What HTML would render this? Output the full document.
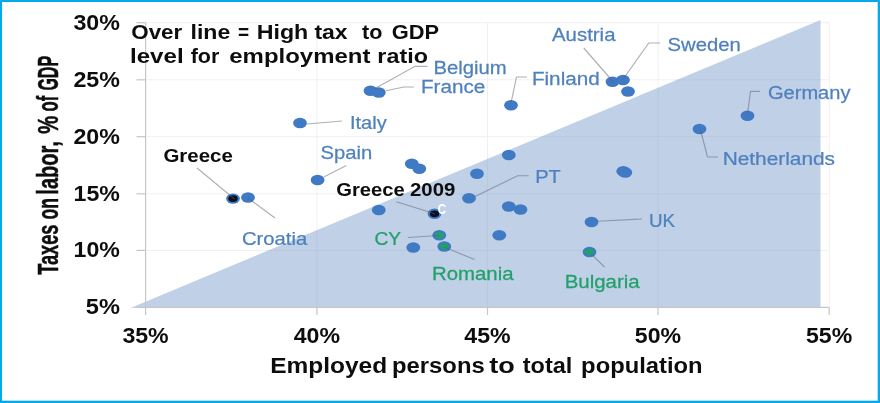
<!DOCTYPE html>
<html lang="en"><head><meta charset="utf-8"><title>Taxes on labor vs employment</title>
<style>
html,body{margin:0;padding:0;background:#fff;}
body{width:880px;height:403px;overflow:hidden;position:relative;font-family:"Liberation Sans",sans-serif;}
svg{position:absolute;left:0;top:0;display:block;}
text{font-family:"Liberation Sans",sans-serif;white-space:pre;}
.lb{font-size:18.5px;fill:#4F81BD;stroke:#4F81BD;stroke-width:0.25;}
.lg{font-size:18.5px;fill:#22A06B;stroke:#22A06B;stroke-width:0.25;}
.lk{font-size:18.4px;font-weight:bold;fill:#0a0a0a;}
.lw{font-size:14.5px;font-weight:bold;fill:#fff;}
.tk{font-size:22.6px;font-weight:bold;fill:#111;}
.ti{font-size:19.8px;font-weight:bold;fill:#111;}
.xt{font-size:22px;font-weight:bold;fill:#111;}
.yt{font-size:28.6px;font-weight:bold;fill:#111;stroke:#111;stroke-width:0.5;stroke-linejoin:round;}
.ld{stroke:#5c626b;stroke-opacity:0.5;stroke-width:1.15;fill:none;}
.gr{stroke:#F0F0F0;stroke-width:1;fill:none;}
.gt{stroke:#b3c3db;stroke-width:1;opacity:0.6;}
.ax{stroke:#C6C6C6;stroke-width:1.2;fill:none;}
.d{fill:#3F7AC4;}
</style></head><body>
<svg width="880" height="403" viewBox="0 0 880 403">
<rect x="0" y="0" width="880" height="403" fill="#fff"/>
<defs><clipPath id="tc"><polygon points="130.6,307.9 820.5,20 820.5,307.9"/></clipPath><filter id="sf" x="0" y="0" width="880" height="403" filterUnits="userSpaceOnUse"><feGaussianBlur stdDeviation="0.45"/></filter></defs>
<g filter="url(#sf)">
<g class="gr">
<line x1="145.6" y1="22.7" x2="829.2" y2="22.7"/>
<line x1="145.6" y1="79.8" x2="829.2" y2="79.8"/>
<line x1="145.6" y1="136.7" x2="829.2" y2="136.7"/>
<line x1="145.6" y1="193.8" x2="829.2" y2="193.8"/>
<line x1="145.6" y1="250.4" x2="829.2" y2="250.4"/>
<line x1="316.9" y1="22.7" x2="316.9" y2="307.4"/>
<line x1="487.5" y1="22.7" x2="487.5" y2="307.4"/>
<line x1="658.0" y1="22.7" x2="658.0" y2="307.4"/>
<line x1="829.2" y1="22.7" x2="829.2" y2="307.4"/>
</g>
<polygon points="130.6,307.9 820.5,20 820.5,307.9" fill="#C0D0E7"/>
<g class="gt" clip-path="url(#tc)">
<line x1="145.6" y1="79.8" x2="820.5" y2="79.8"/>
<line x1="145.6" y1="136.7" x2="820.5" y2="136.7"/>
<line x1="145.6" y1="193.8" x2="820.5" y2="193.8"/>
<line x1="145.6" y1="250.4" x2="820.5" y2="250.4"/>
<line x1="316.9" y1="22.7" x2="316.9" y2="307.4"/>
<line x1="487.5" y1="22.7" x2="487.5" y2="307.4"/>
<line x1="658.0" y1="22.7" x2="658.0" y2="307.4"/>
</g>
<g class="ax">
<line x1="145.6" y1="22.7" x2="145.6" y2="315"/>
<line x1="136.5" y1="307.4" x2="829.2" y2="307.4"/>
<line x1="136.5" y1="22.7" x2="145.6" y2="22.7"/>
<line x1="136.5" y1="79.8" x2="145.6" y2="79.8"/>
<line x1="136.5" y1="136.7" x2="145.6" y2="136.7"/>
<line x1="136.5" y1="193.8" x2="145.6" y2="193.8"/>
<line x1="136.5" y1="250.4" x2="145.6" y2="250.4"/>
<line x1="316.9" y1="307.4" x2="316.9" y2="315"/>
<line x1="487.5" y1="307.4" x2="487.5" y2="315"/>
<line x1="658.0" y1="307.4" x2="658.0" y2="315"/>
<line x1="829.2" y1="307.4" x2="829.2" y2="315"/>
</g>
<g class="d">
<ellipse cx="300.0" cy="123.0" rx="6.9" ry="5.2"/>
<ellipse cx="370.5" cy="90.8" rx="6.9" ry="5.2"/>
<ellipse cx="378.8" cy="92.5" rx="6.9" ry="5.2"/>
<ellipse cx="511.0" cy="105.3" rx="6.9" ry="5.2"/>
<ellipse cx="612.5" cy="81.8" rx="6.9" ry="5.2"/>
<ellipse cx="623.0" cy="80.0" rx="6.9" ry="5.2"/>
<ellipse cx="628.0" cy="91.5" rx="6.9" ry="5.2"/>
<ellipse cx="747.5" cy="115.8" rx="6.9" ry="5.2"/>
<ellipse cx="699.5" cy="129.0" rx="6.9" ry="5.2"/>
<ellipse cx="233.0" cy="198.6" rx="6.9" ry="5.2"/>
<ellipse cx="248.0" cy="197.5" rx="6.9" ry="5.2"/>
<ellipse cx="317.6" cy="180.0" rx="6.9" ry="5.2"/>
<ellipse cx="411.8" cy="163.8" rx="6.9" ry="5.2"/>
<ellipse cx="419.3" cy="168.8" rx="6.9" ry="5.2"/>
<ellipse cx="477.0" cy="173.8" rx="6.9" ry="5.2"/>
<ellipse cx="508.8" cy="155.0" rx="6.9" ry="5.2"/>
<ellipse cx="378.8" cy="210.0" rx="6.9" ry="5.2"/>
<ellipse cx="434.5" cy="213.8" rx="6.9" ry="5.2"/>
<ellipse cx="469.0" cy="198.3" rx="6.9" ry="5.2"/>
<ellipse cx="508.8" cy="206.5" rx="6.9" ry="5.2"/>
<ellipse cx="520.5" cy="209.5" rx="6.9" ry="5.2"/>
<ellipse cx="623.3" cy="171.3" rx="6.9" ry="5.2"/>
<ellipse cx="625.3" cy="172.5" rx="6.9" ry="5.2"/>
<ellipse cx="591.5" cy="222.0" rx="6.9" ry="5.2"/>
<ellipse cx="589.5" cy="252.0" rx="6.9" ry="5.2"/>
<ellipse cx="439.3" cy="235.3" rx="6.9" ry="5.2"/>
<ellipse cx="413.3" cy="247.5" rx="6.9" ry="5.2"/>
<ellipse cx="444.3" cy="246.5" rx="6.9" ry="5.2"/>
<ellipse cx="499.3" cy="235.3" rx="6.9" ry="5.2"/>
</g>
<ellipse cx="233.0" cy="198.6" rx="4.7" ry="3.4" fill="#07101f"/>
<ellipse cx="434.5" cy="213.8" rx="4.7" ry="3.4" fill="#07101f"/>
<ellipse cx="589.5" cy="252.0" rx="4.4" ry="3.2" fill="#22A06B"/>
<ellipse cx="439.3" cy="235.3" rx="4.4" ry="3.2" fill="#22A06B"/>
<ellipse cx="444.3" cy="246.5" rx="4.4" ry="3.2" fill="#22A06B"/>
<g class="ld">
<polyline points="307,124 342,121"/>
<polyline points="375,88.5 415,66.3 427.5,66.3"/>
<polyline points="386,90.8 404,87 413.8,87"/>
<polyline points="511,103 516.5,77 527,77"/>
<polyline points="583.8,48 613.8,82.5"/>
<polyline points="622.5,80 648.8,43 660,43"/>
<polyline points="747.5,114 750.5,91.3 760,91.3"/>
<polyline points="700.5,130 707.5,157 718,157"/>
<polyline points="197,168 234.5,199"/>
<polyline points="248,198 275,218"/>
<polyline points="323.8,177 346.3,165.5"/>
<polyline points="396.3,201.8 435,213.8"/>
<polyline points="475,196.5 517.5,175.7 528.8,175.7"/>
<polyline points="598,221.3 642,219"/>
<polyline points="408,237.5 439,235.5"/>
<polyline points="444,247 474.5,259.5"/>
<polyline points="591,253.8 604.5,267"/>
</g>
<text class="lb" transform="translate(349.92,128.80) scale(1.0838,1)">Italy</text>
<text class="lb" transform="translate(433.40,73.70) scale(1.0990,1)">Belgium</text>
<text class="lb" transform="translate(420.88,93.00) scale(1.1192,1)">France</text>
<text class="lb" transform="translate(531.88,84.50) scale(1.1198,1)">Finland</text>
<text class="lb" transform="translate(552.00,40.50) scale(1.1031,1)">Austria</text>
<text class="lb" transform="translate(667.50,50.50) scale(1.0967,1)">Sweden</text>
<text class="lb" transform="translate(768.00,98.80) scale(1.0842,1)">Germany</text>
<text class="lb" transform="translate(722.67,164.90) scale(1.1269,1)">Netherlands</text>
<text class="lb" transform="translate(320.50,159.30) scale(1.0951,1)">Spain</text>
<text class="lb" transform="translate(242.00,244.60) scale(1.0936,1)">Croatia</text>
<text class="lb" transform="translate(535.22,183.30) scale(1.0833,1)">PT</text>
<text class="lb" transform="translate(648.98,227.00) scale(1.0173,1)">UK</text>
<text class="lg" transform="translate(374.50,244.50) scale(1.0371,1)">CY</text>
<text class="lg" transform="translate(431.90,280.00) scale(1.1024,1)">Romania</text>
<text class="lg" transform="translate(564.69,287.50) scale(1.1052,1)">Bulgaria</text>
<text class="lk" transform="translate(163.40,162.00) scale(1.1135,1)">Greece</text>
<text class="lk" transform="translate(336.30,195.60) scale(1.0974,1)">Greece</text>
<text class="lk" transform="translate(410.00,195.60) scale(1.1061,1)">2009</text>
<text class="lw" transform="translate(437.80,214.00) scale(0.8000,1)">C</text>
<text class="ti" transform="translate(131.20,38.50) scale(1.1324,1)">Over</text>
<text class="ti" transform="translate(190.53,38.50) scale(1.1670,1)">line</text>
<text class="ti" transform="translate(238.00,38.50) scale(0.9636,1)">=</text>
<text class="ti" transform="translate(256.73,38.50) scale(1.1728,1)">High</text>
<text class="ti" transform="translate(314.40,38.50) scale(1.1613,1)">tax</text>
<text class="ti" transform="translate(362.10,38.50) scale(1.0921,1)">to</text>
<text class="ti" transform="translate(391.70,38.50) scale(1.1038,1)">GDP</text>
<text class="ti" transform="translate(129.98,62.70) scale(1.2188,1)">level</text>
<text class="ti" transform="translate(190.70,62.70) scale(1.0873,1)">for</text>
<text class="ti" transform="translate(229.30,62.70) scale(1.2102,1)">employment</text>
<text class="ti" transform="translate(377.32,62.70) scale(1.1799,1)">ratio</text>
<text class="xt" transform="translate(270.19,373.30) scale(1.1140,1)">Employed</text>
<text class="xt" transform="translate(392.02,373.30) scale(1.0836,1)">persons</text>
<text class="xt" transform="translate(489.20,373.30) scale(1.2299,1)">to</text>
<text class="xt" transform="translate(522.80,373.30) scale(1.0678,1)">total</text>
<text class="xt" transform="translate(581.12,373.30) scale(1.0813,1)">population</text>
<text class="tk" transform="translate(73.40,29.60) scale(1.0281,1)">30%</text>
<text class="tk" transform="translate(73.40,86.70) scale(1.0281,1)">25%</text>
<text class="tk" transform="translate(73.40,143.60) scale(1.0281,1)">20%</text>
<text class="tk" transform="translate(73.58,200.70) scale(1.0242,1)">15%</text>
<text class="tk" transform="translate(73.58,257.30) scale(1.0242,1)">10%</text>
<text class="tk" transform="translate(85.80,314.30) scale(1.0440,1)">5%</text>
<text class="tk" transform="translate(122.40,342.70) scale(1.0237,1)">35%</text>
<text class="tk" transform="translate(293.70,342.70) scale(1.0237,1)">40%</text>
<text class="tk" transform="translate(464.30,342.70) scale(1.0237,1)">45%</text>
<text class="tk" transform="translate(634.80,342.70) scale(1.0237,1)">50%</text>
<text class="tk" transform="translate(806.00,342.70) scale(1.0237,1)">55%</text>
<text class="yt" transform="translate(58.2,274.85) rotate(-90) scale(0.6380,1)">Taxes</text>
<text class="yt" transform="translate(58.2,219.47) rotate(-90) scale(0.6160,1)">on</text>
<text class="yt" transform="translate(58.2,194.65) rotate(-90) scale(0.7010,1)">labor,</text>
<text class="yt" transform="translate(58.2,133.85) rotate(-90) scale(0.7040,1)">%</text>
<text class="yt" transform="translate(58.2,111.43) rotate(-90) scale(0.5819,1)">of</text>
<text class="yt" transform="translate(58.2,90.61) rotate(-90) scale(0.5600,1)">GDP</text>
</g>
<rect x="0" y="0" width="880" height="2" fill="#04A9EC"/>
<rect x="0" y="400.7" width="880" height="2.3" fill="#04A9EC"/>
<rect x="0" y="0" width="2.05" height="403" fill="#04A9EC"/>
<rect x="877.7" y="0" width="2.3" height="403" fill="#04A9EC"/>
</svg></body></html>
